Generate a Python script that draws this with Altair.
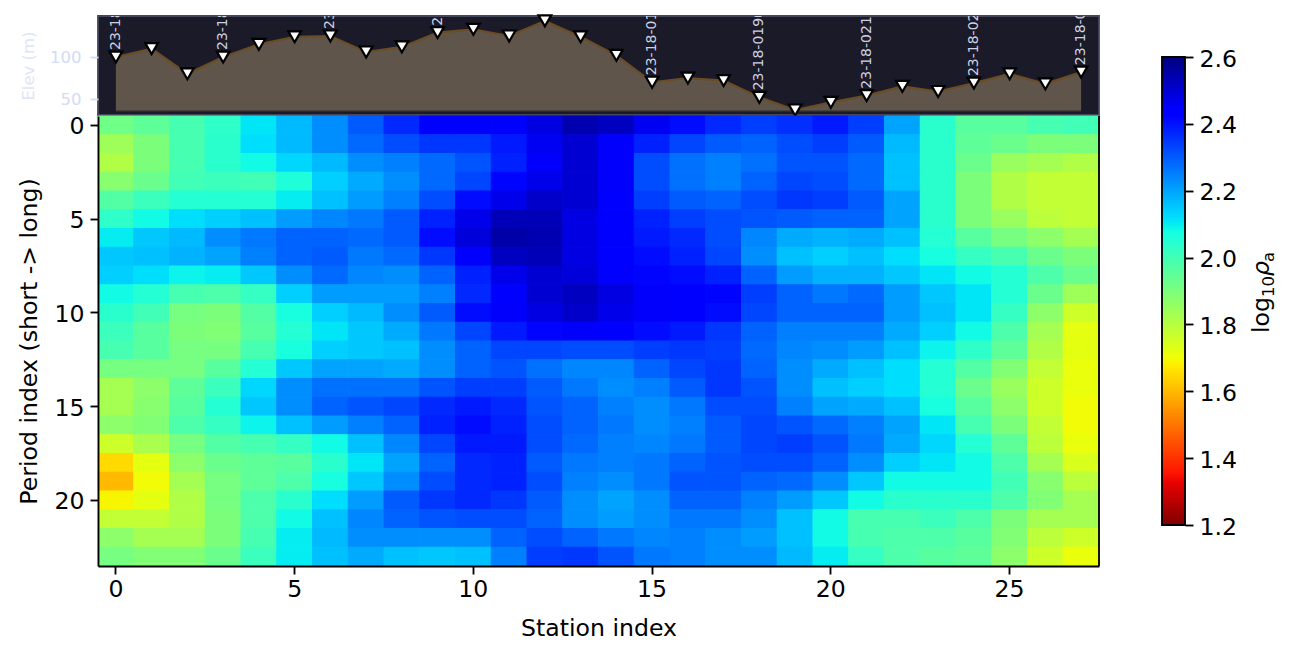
import altair as alt
import pandas as pd

# apparent resistivity, log10, one list per period (rows) across 28 stations
row_00 = [1.92,1.95,1.99,2.03,2.11,2.17,2.23,2.30,2.37,2.44,2.44,2.44,2.48,2.54,2.52,2.46,2.41,2.37,2.34,2.36,2.39,2.34,2.20,2.04,1.96,1.96,1.99,2.00]
row_01 = [1.84,1.90,1.99,2.04,2.12,2.17,2.23,2.28,2.32,2.35,2.35,2.39,2.46,2.50,2.45,2.38,2.33,2.30,2.29,2.32,2.34,2.30,2.17,2.04,1.95,1.93,1.90,1.90]
row_02 = [1.81,1.90,1.99,2.04,2.08,2.13,2.17,2.23,2.25,2.28,2.31,2.38,2.45,2.50,2.45,2.32,2.27,2.25,2.27,2.31,2.31,2.28,2.16,2.04,1.93,1.85,1.83,1.81]
row_03 = [1.88,1.93,2.00,2.01,2.00,2.06,2.14,2.19,2.23,2.28,2.33,2.42,2.47,2.50,2.45,2.32,2.27,2.25,2.29,2.33,2.32,2.28,2.16,2.04,1.90,1.81,1.78,1.78]
row_04 = [1.97,2.01,2.05,2.05,2.05,2.10,2.16,2.21,2.25,2.32,2.41,2.47,2.51,2.50,2.44,2.34,2.30,2.29,2.32,2.35,2.34,2.30,2.20,2.04,1.90,1.81,1.78,1.78]
row_05 = [2.03,2.08,2.12,2.14,2.16,2.21,2.24,2.26,2.30,2.38,2.47,2.53,2.53,2.48,2.44,2.38,2.34,2.32,2.31,2.30,2.29,2.29,2.20,2.04,1.90,1.85,1.79,1.78]
row_06 = [2.10,2.15,2.17,2.23,2.26,2.29,2.29,2.28,2.30,2.41,2.49,2.55,2.54,2.48,2.44,2.39,2.37,2.32,2.24,2.19,2.18,2.19,2.16,2.05,1.96,1.91,1.87,1.83]
row_07 = [2.15,2.16,2.18,2.20,2.25,2.29,2.30,2.26,2.28,2.35,2.45,2.52,2.53,2.48,2.44,2.41,2.38,2.33,2.23,2.16,2.14,2.16,2.12,2.07,2.02,1.99,1.93,1.90]
row_08 = [2.14,2.12,2.09,2.10,2.15,2.23,2.28,2.24,2.23,2.29,2.38,2.47,2.50,2.49,2.45,2.42,2.41,2.38,2.29,2.21,2.18,2.18,2.15,2.11,2.08,2.05,1.98,1.93]
row_09 = [2.08,2.05,1.99,1.98,2.02,2.14,2.21,2.21,2.21,2.25,2.37,2.44,2.50,2.52,2.48,2.45,2.44,2.42,2.34,2.29,2.26,2.28,2.21,2.15,2.11,2.05,1.93,1.84]
row_10 = [2.04,2.00,1.91,1.90,1.97,2.07,2.14,2.17,2.23,2.30,2.41,2.45,2.48,2.51,2.47,2.45,2.44,2.41,2.33,2.29,2.29,2.29,2.21,2.16,2.11,2.02,1.87,1.76]
row_11 = [2.01,1.96,1.90,1.89,1.96,2.05,2.11,2.15,2.19,2.26,2.33,2.39,2.42,2.45,2.44,2.41,2.39,2.35,2.29,2.25,2.25,2.25,2.19,2.14,2.08,1.98,1.83,1.72]
row_12 = [1.99,1.96,1.91,1.91,1.99,2.07,2.14,2.15,2.16,2.23,2.29,2.33,2.33,2.32,2.32,2.34,2.35,2.34,2.28,2.24,2.23,2.21,2.16,2.09,2.03,1.95,1.81,1.72]
row_13 = [1.91,1.91,1.91,1.96,2.05,2.15,2.20,2.20,2.19,2.23,2.29,2.31,2.27,2.24,2.24,2.29,2.33,2.35,2.29,2.23,2.19,2.16,2.12,2.05,1.97,1.89,1.78,1.71]
row_14 = [1.83,1.87,1.95,2.01,2.13,2.23,2.27,2.27,2.27,2.31,2.34,2.34,2.30,2.26,2.23,2.25,2.30,2.35,2.31,2.23,2.16,2.14,2.12,2.05,1.93,1.85,1.76,1.71]
row_15 = [1.83,1.88,1.96,2.05,2.15,2.23,2.29,2.31,2.33,2.37,2.39,2.37,2.31,2.29,2.25,2.23,2.26,2.32,2.32,2.25,2.20,2.19,2.16,2.07,1.96,1.87,1.76,1.70]
row_16 = [1.87,1.89,1.98,2.02,2.09,2.16,2.21,2.25,2.29,2.38,2.41,2.38,2.32,2.29,2.26,2.23,2.25,2.30,2.33,2.31,2.28,2.25,2.20,2.11,1.99,1.90,1.78,1.70]
row_17 = [1.76,1.82,1.91,1.97,1.99,2.02,2.08,2.16,2.24,2.33,2.39,2.39,2.32,2.28,2.25,2.24,2.26,2.30,2.33,2.34,2.31,2.26,2.19,2.13,2.05,1.95,1.79,1.71]
row_18 = [1.65,1.72,1.87,1.93,1.95,1.96,2.04,2.11,2.20,2.29,2.37,2.38,2.30,2.26,2.25,2.26,2.29,2.31,2.32,2.32,2.29,2.23,2.14,2.11,2.08,1.98,1.83,1.74]
row_19 = [1.60,1.70,1.83,1.91,1.95,1.98,2.07,2.15,2.23,2.32,2.37,2.38,2.32,2.25,2.23,2.26,2.31,2.31,2.29,2.28,2.23,2.15,2.08,2.08,2.08,2.00,1.88,1.79]
row_20 = [1.69,1.72,1.81,1.91,1.98,2.04,2.12,2.21,2.30,2.35,2.37,2.35,2.30,2.23,2.20,2.23,2.29,2.29,2.25,2.21,2.15,2.08,2.04,2.04,2.04,1.98,1.89,1.83]
row_21 = [1.78,1.78,1.81,1.90,1.98,2.08,2.16,2.24,2.29,2.31,2.32,2.32,2.29,2.23,2.21,2.23,2.26,2.26,2.23,2.16,2.08,1.99,1.99,2.01,1.98,1.90,1.83,1.83]
row_22 = [1.87,1.83,1.83,1.90,1.99,2.10,2.17,2.23,2.23,2.23,2.23,2.29,2.32,2.29,2.26,2.24,2.25,2.23,2.21,2.16,2.08,1.99,1.98,1.98,1.96,1.89,1.79,1.76]
row_23 = [1.91,1.89,1.89,1.93,2.01,2.10,2.16,2.19,2.16,2.15,2.16,2.25,2.34,2.35,2.31,2.26,2.25,2.23,2.23,2.17,2.10,2.02,1.98,1.96,1.95,1.87,1.76,1.71]
rows = [row_00,row_01,row_02,row_03,row_04,row_05,row_06,row_07,row_08,row_09,row_10,row_11,
        row_12,row_13,row_14,row_15,row_16,row_17,row_18,row_19,row_20,row_21,row_22,row_23]

elevation = [100,110,80,100,115,124,125,106,112,129,133,125,143,124,102,70,75,72,52,37,46,54,65,59,69,80,68,82]
label_stations = [0,3,6,9,12,15,18,21,24,27]
label_texts = ["23-18-0001","23-18-0040","23-18-0070","23-18-0100","23-18-0130",
               "23-18-0170","23-18-0190","23-18-0210","23-18-0240","23-18-0270"]
elev_base = 35.5
elev_domain = [31, 148.8]
x_ticks = [0,5,10,15,20,25]
y_ticks = [0,5,10,15,20]
cbar_ticks = [1.2,1.4,1.6,1.8,2.0,2.2,2.4,2.6]

# jet_r breakpoints
jet_values = [1.2,1.326,1.354,1.676,1.69,1.704,2.075,2.11,2.124,2.425,2.446,2.6]
jet_colors = ["#7f0000","#e80000","#ff1300","#ffec00","#f7f600","#eeff08","#15ffe2","#00e6f7","#00dbff","#0000ff","#0000ff","#00007f"]

FONT = "DejaVu Sans"
BLACK_W = 1.85
FS = 23.6

df_heat = pd.DataFrame([
    {"station": s, "period": p, "rho": v}
    for p, row in enumerate(rows) for s, v in enumerate(row)
])
df_st = pd.DataFrame({"station": list(range(len(elevation))), "elev": elevation})
df_lab = pd.DataFrame({"station": label_stations, "label": label_texts,
                       "elev": [elevation[s] for s in label_stations]})
df_base = pd.DataFrame({"x0": [0], "x1": [27], "elev": [elev_base]})

x_top = alt.X("station:Q", scale=alt.Scale(domain=[-0.5, 27.5], nice=False, zero=False), axis=None)
y_top = alt.Y("elev:Q", scale=alt.Scale(domain=elev_domain, nice=False, zero=False),
              axis=alt.Axis(values=[50,100], grid=False, domain=False, tickColor="#d3dbf6", tickSize=8,
                            tickWidth=1.8, labelColor="#d3dbf6", labelFontSize=16.5, labelPadding=9,
                            title="Elev (m)", titleColor="#dfe4f8", titleFontSize=16.5, titleFontWeight="normal",
                            titlePadding=13, labelFont=FONT, titleFont=FONT))

area = alt.Chart(df_st).mark_area(color="#60554a", opacity=1).encode(x=x_top, y=y_top, y2=alt.Y2(datum=elev_base))
line = alt.Chart(df_st).mark_line(color="#6b4c24", strokeWidth=2.2).encode(x=x_top, y=y_top)
base = alt.Chart(df_base).mark_rule(color="#2c2c30", strokeWidth=1.6).encode(
    x=alt.X("x0:Q", scale=alt.Scale(domain=[-0.5, 27.5], nice=False, zero=False), axis=None),
    x2="x1:Q", y=alt.Y("elev:Q"))
pts = alt.Chart(df_st).mark_point(shape="triangle-down", filled=True, fill="white", stroke="black",
                                  strokeWidth=2.2, size=160, opacity=1).encode(x=x_top, y=y_top)
labs = alt.Chart(df_lab).mark_text(angle=270, align="left", baseline="middle", dx=7, fontSize=14,
                                   font=FONT, color="#cdd1e4", clip=True).encode(x=x_top, y=y_top, text="label:N")

top = alt.layer(area, line, base, labs, pts).properties(
    width=1001, height=99,
    view=alt.ViewBackground(fill="#1a1a28", stroke="#44475a", strokeWidth=1.8),
)

color_scale = alt.Scale(domain=jet_values, range=jet_colors, interpolate="rgb", type="linear")
heat_rect = alt.Chart(df_heat).mark_rect(strokeWidth=1).encode(
    x=alt.X("station:O", scale=alt.Scale(paddingInner=0, paddingOuter=0),
            axis=alt.Axis(values=x_ticks, labelAngle=0, title="Station index", domainWidth=BLACK_W, domainColor="black",
                          tickWidth=BLACK_W, tickColor="black", tickSize=8, labelFontSize=FS,
                          titleFontSize=FS, titleFontWeight="normal", labelPadding=3, titlePadding=16,
                          zindex=1, labelFont=FONT, titleFont=FONT, labelColor="black", titleColor="black", grid=False)),
    y=alt.Y("period:O", scale=alt.Scale(paddingInner=0, paddingOuter=0),
            axis=alt.Axis(values=y_ticks, title="Period index (short -> long)", domainWidth=BLACK_W, domainColor="black",
                          tickWidth=BLACK_W, tickColor="black", tickSize=8, labelFontSize=FS, labelOffset=2,
                          titleFontSize=FS, titleFontWeight="normal", labelPadding=6, titlePadding=12,
                          zindex=1, labelFont=FONT, titleFont=FONT, labelColor="black", titleColor="black", grid=False)),
    color=alt.Color("rho:Q", scale=color_scale, legend=None),
    stroke=alt.Stroke("rho:Q", scale=color_scale, legend=None),
)
df_edge = pd.DataFrame({"k": [0]})
right_edge = alt.Chart(df_edge).mark_rule(color="black", strokeWidth=BLACK_W).encode(
    x=alt.value(1001), y=alt.value(0), y2=alt.value(450))
heat = alt.layer(heat_rect, right_edge).properties(width=1001, height=450, view=alt.ViewBackground(stroke=None))

span = jet_values[-1] - jet_values[0]
stops = [alt.GradientStop(color=c, offset=(v - jet_values[0]) / span) for v, c in zip(jet_values, jet_colors)]
gradient = alt.LinearGradient(gradient="linear", stops=stops, x1=0, x2=0, y1=1, y2=0)
cbar_h = 509
df_cb = pd.DataFrame({"lo": [1.2], "hi": [2.6]})
cbar_rect = alt.Chart(df_cb).mark_rect(fill=gradient, stroke="black", strokeWidth=BLACK_W).encode(
    x=alt.value(0), x2=alt.value(23),
    y=alt.Y("lo:Q", title=None, scale=alt.Scale(domain=[1.2, 1.2 + 1.4 * cbar_h / 468], nice=False, zero=False),
            axis=alt.Axis(orient="right", values=cbar_ticks, format=".1f", grid=False, domain=False,
                          tickColor="black", tickWidth=BLACK_W, tickSize=8, labelFontSize=FS, labelPadding=6,
                          labelOffset=2, labelFont=FONT, labelColor="black")),
    y2="hi:Q",
)
# colorbar title log10(rho_a), composed as matplotlib mathtext sets it: text, x, y, size, style
title_parts = [("log", 107, 317, 23.6, "normal"), ("10", 112, 281, 16.5, "normal"),
               ("ρ", 107, 260, 23.6, "italic"), ("a", 112, 246, 16.5, "normal")]
cbar_title = [
    alt.Chart(df_cb).mark_text(text=t, angle=270, align="left", baseline="alphabetic", font=FONT,
                               fontSize=fs, fontStyle=st, color="black").encode(x=alt.value(x), y=alt.value(y))
    for t, x, y, fs, st in title_parts
]
cbar = alt.layer(cbar_rect, *cbar_title).properties(width=23, height=cbar_h, view=alt.ViewBackground(stroke=None))

left = alt.vconcat(top, heat, spacing=1, bounds="flush")
chart = alt.hconcat(left, cbar, spacing=61).properties(
    padding={"left": 9, "top": 2, "right": 0, "bottom": 0},
    background="white",
)
chart.save("out.html", embed_options={"renderer": "svg", "actions": False})
